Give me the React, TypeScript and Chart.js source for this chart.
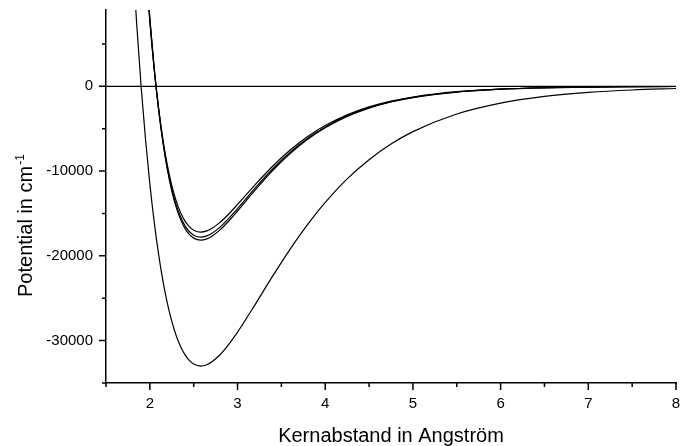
import React, { useEffect, useRef } from "react";
import { Chart, registerables } from "chart.js";

Chart.register(...registerables);

// Kernabstand (Angström) and potential (cm^-1)
const rDeep = [1.80, 1.85, 1.90, 1.95, 2.00, 2.05, 2.10, 2.15, 2.20, 2.25, 2.30, 2.35, 2.40, 2.45, 2.50, 2.58, 2.65, 2.70, 2.80, 2.90, 3.00, 3.20, 3.40, 3.60, 3.80, 4.00, 4.25, 4.50, 4.75, 5.00, 5.50, 6.00, 6.50, 7.00, 7.50, 8.00];
const vDeep = [15770, 7340, 50, -6190, -11510, -16030, -19830, -23000, -25600, -27710, -29400, -30690, -31660, -32340, -32760, -33000, -32840, -32560, -31670, -30440, -28990, -25750, -22400, -19200, -16280, -13690, -10920, -8660, -6820, -5350, -3270, -1985, -1200, -723, -435, -261];

const rShallow = [1.90, 1.95, 2.00, 2.05, 2.10, 2.15, 2.20, 2.25, 2.30, 2.35, 2.40, 2.45, 2.50, 2.58, 2.65, 2.70, 2.80, 2.90, 3.00, 3.20, 3.40, 3.60, 3.80, 4.00, 4.25, 4.50, 4.75, 5.00, 5.50, 6.00, 6.50, 7.00, 7.50, 8.00];
const vShallowA = [22610, 14400, 7590, 1980, -2610, -6340, -9320, -11680, -13510, -14880, -15880, -16560, -16970, -17200, -17060, -16810, -16050, -15060, -13940, -11620, -9430, -7520, -5920, -4630, -3370, -2430, -1750, -1260, -640, -330, -170, -84, -43, -22];
const vShallowB = [23400, 14910, 7860, 2050, -2700, -6560, -9650, -12090, -13980, -15400, -16430, -17130, -17570, -17800, -17650, -17400, -16610, -15580, -14430, -12020, -9760, -7780, -6130, -4790, -3490, -2520, -1810, -1300, -670, -340, -170, -87, -44, -22];
const vShallowC = [23860, 15200, 8010, 2090, -2760, -6690, -9840, -12330, -14250, -15700, -16760, -17470, -17910, -18150, -18000, -17740, -16940, -15890, -14710, -12260, -9950, -7940, -6250, -4880, -3550, -2570, -1850, -1330, -680, -345, -175, -89, -45, -23];

const rZero = [1.5, 8];
const vZero = [0, 0];

// axes
const xMin = 1.5;
const xMax = 8;
const yMin = -35000;
const yMax = 9000;
const xMajor = [2, 3, 4, 5, 6, 7, 8];
const xMinor = [1.5, 2.5, 3.5, 4.5, 5.5, 6.5, 7.5];
const yMajor = [-30000, -20000, -10000, 0];
const yMinor = [-35000, -25000, -15000, -5000, 5000];

const xTitle = "Kernabstand in Angström";
const yTitle = "Potential in cm";
const yTitleSup = "-1";

const FONT = "'Liberation Sans', Arial, Helvetica, sans-serif";

const toPts = (xs: number[], ys: number[]) => xs.map((x, i) => ({ x, y: ys[i] }));

const tickPlugin = {
  id: "customTicks",
  afterDraw(chart: any) {
    const ctx = chart.ctx;
    const { left, bottom } = chart.chartArea;
    const xs = chart.scales.x;
    const ys = chart.scales.y;
    ctx.save();
    ctx.strokeStyle = "#000";
    ctx.lineWidth = 1.5;
    ctx.beginPath();
    xMajor.forEach((v) => {
      const p = xs.getPixelForValue(v);
      ctx.moveTo(p, bottom);
      ctx.lineTo(p, bottom + 7);
    });
    xMinor.forEach((v) => {
      const p = xs.getPixelForValue(v);
      ctx.moveTo(p, bottom);
      ctx.lineTo(p, bottom + 4);
    });
    yMajor.forEach((v) => {
      const p = ys.getPixelForValue(v);
      ctx.moveTo(left, p);
      ctx.lineTo(left - 7, p);
    });
    yMinor.forEach((v) => {
      const p = ys.getPixelForValue(v);
      ctx.moveTo(left, p);
      ctx.lineTo(left - 4, p);
    });
    ctx.stroke();

    // axis titles
    ctx.fillStyle = "#000";
    ctx.font = `20px ${FONT}`;
    ctx.textAlign = "center";
    ctx.textBaseline = "alphabetic";
    const cx = (chart.chartArea.left + chart.chartArea.right) / 2;
    ctx.fillText(xTitle, cx, 442);

    ctx.save();
    ctx.translate(32, 297);
    ctx.rotate(-Math.PI / 2);
    ctx.textAlign = "left";
    ctx.font = `20px ${FONT}`;
    ctx.fillText(yTitle, 0, 0);
    const w = ctx.measureText(yTitle).width;
    ctx.font = `12px ${FONT}`;
    ctx.fillText(yTitleSup, w + 1, -8);
    ctx.restore();

    ctx.restore();
  },
};

export default function App() {
  const ref = useRef<HTMLCanvasElement | null>(null);

  useEffect(() => {
    if (!ref.current) return;
    const line = (data: { x: number; y: number }[]) => ({
      data,
      borderColor: "#000",
      borderWidth: 1.2,
      pointRadius: 0,
      fill: false,
      cubicInterpolationMode: "monotone" as const,
    });
    const chart = new Chart(ref.current, {
      type: "line",
      data: {
        datasets: [
          line(toPts(rZero, vZero)),
          line(toPts(rDeep, vDeep)),
          line(toPts(rShallow, vShallowA)),
          line(toPts(rShallow, vShallowB)),
          line(toPts(rShallow, vShallowC)),
        ],
      },
      options: {
        animation: false,
        responsive: false,
        layout: { padding: { top: 10, right: 5, left: 0, bottom: 0 } },
        plugins: {
          legend: { display: false },
          tooltip: { enabled: false },
        },
        scales: {
          x: {
            type: "linear",
            min: xMin,
            max: xMax,
            afterBuildTicks: (scale: any) => {
              scale.ticks = [...xMinor, ...xMajor].sort((a, b) => a - b).map((value) => ({ value }));
            },
            afterFit: (scale: any) => {
              scale.height = 63;
              scale.paddingLeft = 0;
              scale.paddingRight = 0;
            },
            grid: { display: true, drawOnChartArea: false, drawTicks: false },
            border: { display: true, color: "#000", width: 1.5 },
            ticks: {
              autoSkip: false,
              maxRotation: 0,
              padding: 12,
              color: "#000",
              font: { family: FONT, size: 15 },
              callback: (v: any) => (xMajor.includes(Number(v)) ? String(v) : ""),
            },
          },
          y: {
            type: "linear",
            min: yMin,
            max: yMax,
            afterBuildTicks: (scale: any) => {
              scale.ticks = [...yMinor, ...yMajor].sort((a, b) => a - b).map((value) => ({ value }));
            },
            afterFit: (scale: any) => {
              scale.width = 106;
              scale.paddingTop = 0;
              scale.paddingBottom = 0;
            },
            grid: { display: true, drawOnChartArea: false, drawTicks: false },
            border: { display: true, color: "#000", width: 1.5 },
            ticks: {
              autoSkip: false,
              padding: 13,
              color: "#000",
              font: { family: FONT, size: 15 },
              callback: (v: any) => (yMajor.includes(Number(v)) ? String(v) : ""),
            },
          },
        },
      },
      plugins: [tickPlugin],
    });
    return () => chart.destroy();
  }, []);

  return (
    <div style={{ position: "absolute", left: 0, top: 0, width: 681, height: 446, background: "#fff" }}>
      <canvas ref={ref} width={681} height={446} style={{ display: "block" }} />
    </div>
  );
}
